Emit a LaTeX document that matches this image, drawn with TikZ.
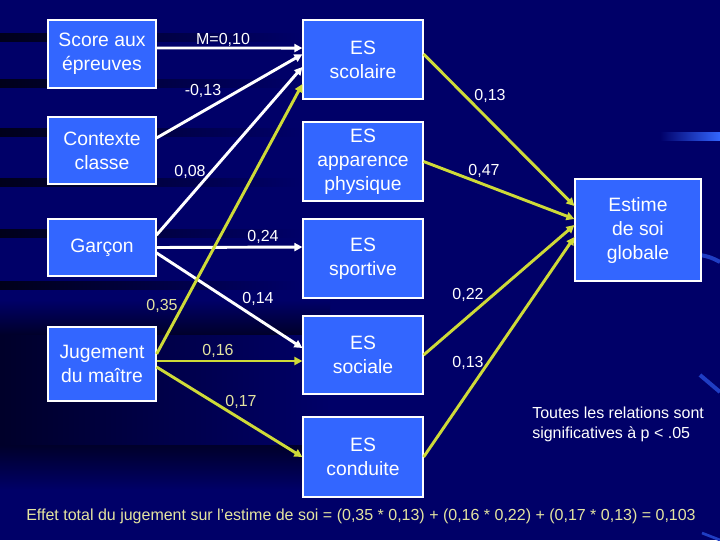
\documentclass[tikz,border=0pt]{standalone}
\usepackage{fontspec}
\setmainfont{Liberation Sans}
\usetikzlibrary{arrows.meta}
\definecolor{navybg}{RGB}{0,0,104}
\definecolor{boxblue}{RGB}{51,102,255}
\definecolor{pathyellow}{RGB}{206,218,56}
\definecolor{paleyellow}{RGB}{228,228,160}
\begin{document}
\begin{tikzpicture}[x=0.75pt, y=-0.75pt,
  box/.style={draw=white, line width=0.9pt, fill=boxblue, text=white, inner sep=0pt,
    align=center, font=\fontsize{14.5}{18}\selectfont},
  leftbox/.style={box, minimum width=81pt},
  esbox/.style={box, minimum width=90pt, minimum height=59.25pt},
  whitepath/.style={draw=white, line width=2.2pt, -{Triangle[length=6pt,width=6pt]}},
  yellowpath/.style={draw=pathyellow, line width=2.2pt, -{Triangle[length=6pt,width=6pt]}},
  coef/.style={text=white, inner sep=0pt, font=\fontsize{12}{14}\selectfont},
  ]
  % Background
  \useasboundingbox (0,0) rectangle (720,540);
  \fill[navybg] (0,0) rectangle (720,540);
  \shade[top color=navybg, bottom color=black!60!navybg] (0,300) rectangle (330,335);
  \shade[left color=black!60!navybg, right color=navybg] (0,335) rectangle (330,445);
  \shade[top color=black!60!navybg, bottom color=navybg] (0,445) rectangle (330,490);
  \foreach \y in {37, 83, 132, 182, 233, 285} {
    \shade[left color=black!75!navybg, right color=navybg] (0,\y-4) rectangle (300,\y+4);
  }
  % Streaks on the right
  \shade[left color=navybg, right color=boxblue] (660,132) rectangle (720,140);
  \draw[boxblue!60!navybg, line width=3pt] (700,255) to[bend left=10] (720,262);
  \draw[boxblue!60!navybg, line width=3pt] (700,375) -- (720,392);
  \draw[boxblue!60!navybg, line width=2pt] (702,533) -- (720,540);
  % Predictors
  \node[leftbox, minimum height=51pt] (score) at (102,54) {Score aux\\épreuves};
  \node[leftbox, minimum height=50.25pt] (contexte) at (102,150.5) {Contexte\\classe};
  \node[leftbox, minimum height=42.75pt] (garcon) at (102,247.5) {Garçon};
  \node[leftbox, minimum height=55.5pt] (jugement) at (102,364) {Jugement\\du maître};
  % Self-esteem domains
  \node[esbox] (scolaire) at (363,59.5) {ES\\scolaire};
  \node[esbox] (apparence) at (363,161.5) {ES\\apparence\\physique};
  \node[esbox] (sportive) at (363,258.5) {ES\\sportive};
  \node[esbox, minimum height=58.5pt] (sociale) at (363,355) {ES\\sociale};
  \node[esbox, minimum height=60pt] (conduite) at (363,457) {ES\\conduite};
  \node[box, minimum width=94.5pt, minimum height=76.5pt] (estime) at (638,230)
    {Estime\\de soi\\globale};
  % White paths
  \draw[whitepath] ([yshift=4.5pt]score.east) -- ([yshift=8.6pt]scolaire.west);
  \draw[whitepath] ([yshift=9.4pt]contexte.east) -- ([yshift=4pt]scolaire.west);
  \draw[whitepath] ([yshift=9.4pt]garcon.east) -- ([yshift=-5.6pt]scolaire.west);
  \draw[whitepath] (garcon.east) -- ([yshift=8.6pt]sportive.west);
  \draw[whitepath] ([yshift=-4.1pt]garcon.east) -- ([yshift=5.25pt]sociale.west);
  % Yellow paths
  \draw[yellowpath] ([yshift=7.5pt]jugement.east) -- ([yshift=-18.4pt]scolaire.west);
  \draw[yellowpath] ([yshift=2.25pt]jugement.east) -- ([yshift=-4.5pt]sociale.west);
  \draw[yellowpath] ([yshift=-2.25pt]jugement.east) -- (conduite.west);
  \draw[yellowpath] ([yshift=4.1pt]scolaire.east) -- ([yshift=18pt]estime.west);
  \draw[yellowpath] (apparence.east) -- ([yshift=8.25pt]estime.west);
  \draw[yellowpath] (sociale.east) -- ([yshift=3.75pt]estime.west);
  \draw[yellowpath] (conduite.east) -- ([yshift=-5.25pt]estime.west);
  % Coefficients
  \node[coef] (cScore) at (223,40) {M=0,10};
  \node[coef] (cContexte) at (203,91) {-0,13};
  \node[coef] (cGarconScol) at (190,172) {0,08};
  \node[coef] (cGarconSport) at (263,237) {0,24};
  \node[coef] (cGarconSoc) at (258,299) {0,14};
  \node[coef, text=paleyellow] (cJugScol) at (162,306) {0,35};
  \node[coef, text=paleyellow] (cJugSoc) at (218,351) {0,16};
  \node[coef, text=paleyellow] (cJugCond) at (241,402) {0,17};
  \node[coef] (cScol) at (490,96) {0,13};
  \node[coef] (cApp) at (484,171) {0,47};
  \node[coef] (cSoc) at (468,295) {0,22};
  \node[coef] (cCond) at (468,363) {0,13};
  % Notes
  \node[coef, anchor=west, align=left, font=\fontsize{12}{15}\selectfont] (note) at (532,424)
    {Toutes les relations sont\\significatives à p < .05};
  \node[coef, text=paleyellow] (total) at (361,516)
    {Effet total du jugement sur l'estime de soi = (0,35 * 0,13) + (0,16 * 0,22) + (0,17 * 0,13) = 0,103};
\end{tikzpicture}
\end{document}
